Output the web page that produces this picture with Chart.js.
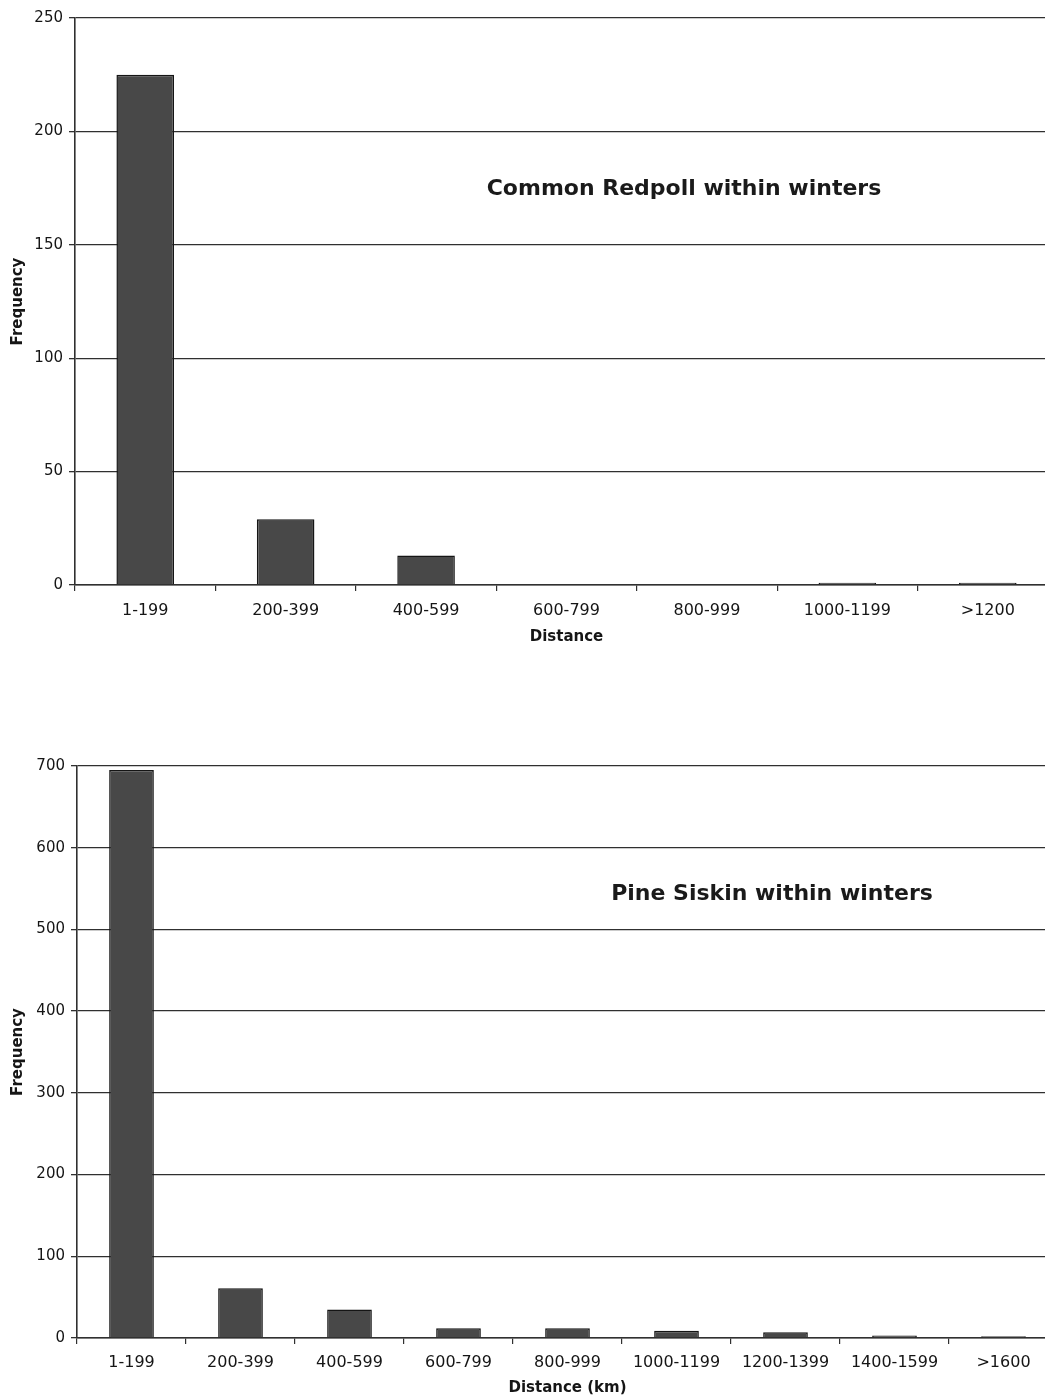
<!DOCTYPE html>
<html>
<head>
<meta charset="utf-8">
<title>Redpoll and Siskin distances within winters</title>
<script src="https://cdn.jsdelivr.net/npm/chart.js@4/dist/chart.umd.min.js"></script>
<style>
  html, body { margin: 0; padding: 0; background: #fff; }
  #page { position: relative; width: 1045px; height: 1397px; overflow: hidden; }
  canvas { position: absolute; left: 0; }
  #c-redpoll { top: 0; }
  #c-siskin { top: 700px; }
  .panel-title {
    position: absolute;
    transform: translate(-50%, -50%);
    font: bold 22px "DejaVu Sans", Verdana, sans-serif;
    color: #1a1a1a;
    white-space: nowrap;
  }
</style>
</head>
<body>
<div id="page">
  <canvas id="c-redpoll" width="1060" height="646"></canvas>
  <canvas id="c-siskin" width="1060" height="697"></canvas>
  <div class="panel-title" style="left:684px; top:187px">Common Redpoll within winters</div>
  <div class="panel-title" style="left:772px; top:892px">Pine Siskin within winters</div>
</div>
<script>
const REDPOLL_BINS = ["1-199", "200-399", "400-599", "600-799", "800-999", "1000-1199", ">1200"];
const REDPOLL_FREQ = [225, 29, 13, 0, 0, 1, 1];
const REDPOLL_TICKS = [0, 50, 100, 150, 200, 250];

const SISKIN_BINS = ["1-199", "200-399", "400-599", "600-799", "800-999", "1000-1199", "1200-1399", "1400-1599", ">1600"];
const SISKIN_FREQ = [695, 61, 35, 12, 12, 9, 7, 3, 2];
const SISKIN_TICKS = [0, 100, 200, 300, 400, 500, 600, 700];

const FONT = "DejaVu Sans";
const INK = "#151515";
const LINE = "#303030";

function histogram(canvasId, bins, freq, yTicks, xTitle, opts) {
  const yMax = yTicks[yTicks.length - 1];
  const step = yTicks[1] - yTicks[0];
  return new Chart(document.getElementById(canvasId), {
    type: "bar",
    data: {
      labels: bins,
      datasets: [{
        data: freq,
        backgroundColor: "#484848",
        borderColor: "#151515",
        borderWidth: 1.5,
        categoryPercentage: 1,
        barPercentage: 0.41,
      }],
    },
    options: {
      responsive: false,
      animation: false,
      events: [],
      layout: { padding: { top: opts.top, left: 0, right: 2, bottom: 0 } },
      plugins: { legend: { display: false }, tooltip: { enabled: false } },
      scales: {
        x: {
          grid: { display: true, drawOnChartArea: false, drawTicks: true, tickLength: 6, color: LINE, lineWidth: 1.2 },
          border: { display: true, color: LINE, width: 1.6 },
          ticks: { color: INK, font: { family: FONT, size: 16 }, padding: opts.xPad, maxRotation: 0, autoSkip: false },
          title: { display: true, text: xTitle, color: INK, font: { family: FONT, size: 15, weight: "bold" }, padding: { top: 0, bottom: 0 } },
          afterFit: (s) => { s.height = opts.xHeight; },
        },
        y: {
          min: 0,
          max: yMax,
          ticks: { stepSize: step, color: INK, font: { family: FONT, size: 15 }, padding: 6 },
          grid: { color: LINE, lineWidth: 1.3, drawTicks: true, tickLength: 6 },
          border: { display: true, color: LINE, width: 1.6 },
          title: { display: true, text: "Frequency", color: INK, font: { family: FONT, size: 15, weight: "bold" }, padding: { top: 9, bottom: 0 } },
          afterFit: (s) => { s.width = opts.yWidth; },
        },
      },
    },
  });
}

histogram("c-redpoll", REDPOLL_BINS, REDPOLL_FREQ, REDPOLL_TICKS, "Distance",
  { top: 18, xHeight: 61, xPad: 10, yWidth: 75 });
histogram("c-siskin", SISKIN_BINS, SISKIN_FREQ, SISKIN_TICKS, "Distance (km)",
  { top: 66, xHeight: 59, xPad: 9, yWidth: 77 });
</script>
</body>
</html>
